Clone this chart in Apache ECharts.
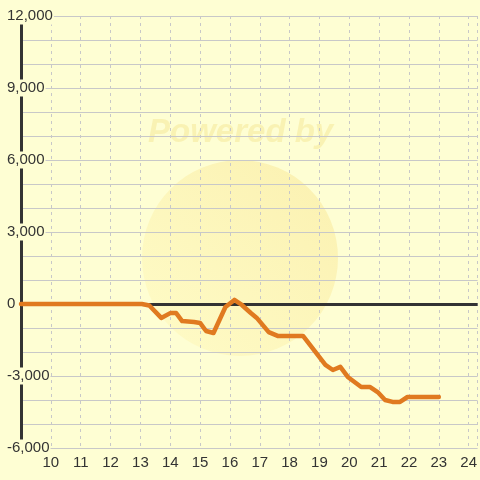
<!DOCTYPE html>
<html>
<head>
<meta charset="utf-8">
<script src="https://cdn.jsdelivr.net/npm/echarts@6/dist/echarts.min.js"></script>
<style>
  html, body { margin: 0; padding: 0; background: #fefed3; }
  #chart { width: 480px; height: 480px; }
</style>
</head>
<body>
<div id="chart"></div>
<script>
// hour of day and cumulative value
var hours = [9, 13.05, 13.3, 13.7, 14.0, 14.2, 14.4, 14.8, 15.0, 15.2, 15.45, 15.85, 16.15, 16.4, 16.7, 16.9, 17.3, 17.6, 18.45, 19.2, 19.45, 19.7, 19.95, 20.4, 20.7, 20.95, 21.2, 21.45, 21.7, 21.95, 23.0]
var values = [0, 0, -60, -580, -380, -380, -710, -750, -790, -1125, -1210, -125, 170, -40, -375, -580, -1170, -1330, -1330, -2540, -2750, -2620, -3040, -3460, -3460, -3670, -4000, -4080, -4080, -3875, -3875]
var yLabelStep = 3000

var bg = '#fefed3'
var chart = echarts.init(document.getElementById('chart'))

chart.setOption({
  backgroundColor: bg,
  animation: false,
  textStyle: { fontFamily: 'Liberation Sans, Arial, sans-serif' },
  graphic: [
    {
      type: 'circle',
      silent: true,
      z: -10,
      shape: { cx: 240, cy: 258, r: 98 },
      style: {
        fill: new echarts.graphic.LinearGradient(0, 1, 1, 0, [
          { offset: 0, color: 'rgba(255,245,170,0.3)' },
          { offset: 1, color: 'rgba(245,215,110,0.35)' }
        ])
      }
    },
    {
      type: 'text',
      silent: true,
      z: -10,
      left: 148,
      top: 116,
      style: {
        text: 'Powered by',
        fill: 'rgba(240,220,120,0.35)',
        font: 'italic bold 33px Liberation Sans, Arial, sans-serif'
      }
    }
  ],
  grid: { left: 21, top: 16, right: 0, height: 432 },
  xAxis: {
    type: 'value',
    min: 9,
    max: 24.3,
    interval: 1,
    axisLine: { show: false },
    axisTick: { show: false },
    axisLabel: {
      color: '#333',
      fontSize: 15,
      margin: 7,
      showMinLabel: false,
      showMaxLabel: false
    },
    splitLine: { lineStyle: { color: '#c8c8c8', type: [3, 4], width: 1 } }
  },
  yAxis: {
    type: 'value',
    min: -6000,
    max: 12000,
    interval: 1000,
    axisLine: { show: true, lineStyle: { color: '#333', width: 3 } },
    axisTick: { show: false },
    axisLabel: {
      color: '#333',
      fontSize: 15,
      align: 'left',
      margin: 15,
      backgroundColor: bg,
      padding: [1, 1],
      formatter: function (v) {
        if (v % yLabelStep !== 0) return ''
        return v.toLocaleString('en-US')
      }
    },
    splitLine: { lineStyle: { color: '#c8c8c8', width: 1 } }
  },
  series: [
    {
      type: 'line',
      data: hours.map(function (h, i) { return [h, values[i]] }),
      showSymbol: false,
      lineStyle: { color: '#e07a20', width: 4.5, cap: 'round', join: 'round' },
      z: 3,
      markLine: {
        silent: true,
        symbol: 'none',
        label: { show: false },
        lineStyle: { color: '#333', width: 3, type: 'solid' },
        data: [{ yAxis: 0 }],
        z: 2
      }
    }
  ]
})
</script>
</body>
</html>
